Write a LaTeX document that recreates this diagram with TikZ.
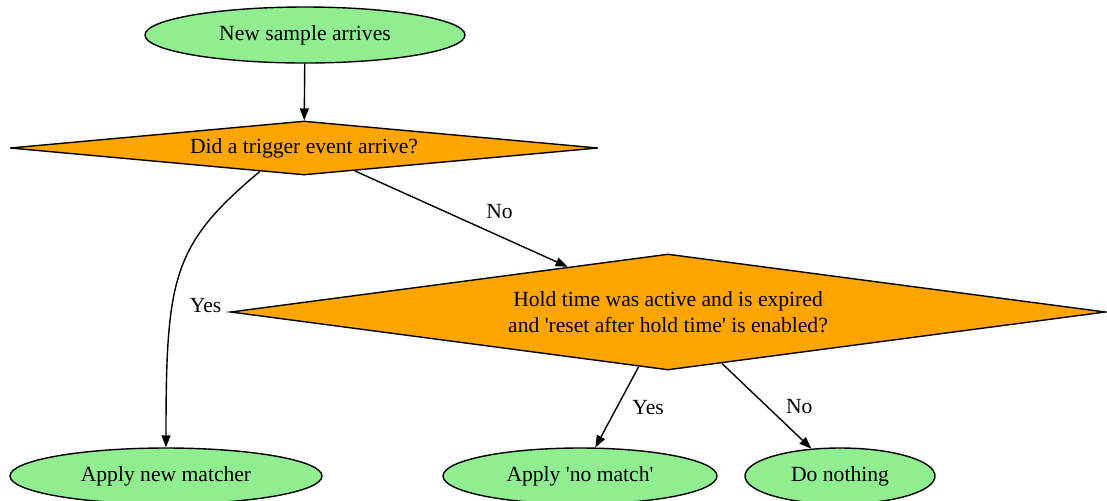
\documentclass[tikz,border=0pt]{standalone}
\usepackage{fontspec}
\setmainfont{Liberation Serif}
\usepackage{tikz}
\usetikzlibrary{shapes.geometric, arrows.meta}

\definecolor{leaf}{HTML}{90EE90}
\definecolor{ask}{HTML}{FFA500}

\begin{document}
\begin{tikzpicture}[x=0.5pt, y=-0.5pt,
		every node/.style={font=\fontsize{10.8}{13}\selectfont},
		endbox/.style={ellipse, draw, fill=leaf, line width=0.7pt, inner sep=0pt},
		askbox/.style={diamond, draw, fill=ask, line width=0.7pt, inner sep=0pt, align=center},
		arr/.style={line width=0.7pt, -{Triangle[length=6pt, width=4.5pt]}}]
			\useasboundingbox (0, 0) rectangle (1107, 500);

			\node[endbox, minimum width=160pt, minimum height=28pt] (arrive) at (305, 35) {New sample arrives};
			\node[askbox, aspect=10.9, minimum width=294pt, minimum height=27pt] (trig) at (304, 148) {Did a trigger event arrive?};
			\node[askbox, aspect=7.5, minimum width=437.5pt, minimum height=58pt] (hold) at (668, 312)
				{Hold time was active and is expired\\and \textquotesingle reset after hold time\textquotesingle\ is enabled?};
			\node[endbox, minimum width=156pt, minimum height=28pt] (newm) at (166, 476) {Apply new matcher};
			\node[endbox, minimum width=137pt, minimum height=28pt] (nomatch) at (580, 476) {Apply \textquotesingle no match\textquotesingle};
			\node[endbox, minimum width=95pt, minimum height=28pt] (nothing) at (840, 476) {Do nothing};

			\draw[arr] (arrive) -- (trig);
			\draw[arr] (trig.-152) to[out=-140, in=90, out looseness=1.0, in looseness=1.5]
				node[pos=0.63, right=5pt] {Yes} (newm);
			\draw[arr] (trig) -- node[pos=0.68, above=5pt] {No} (hold);
			\draw[arr] (hold) -- node[midway, right=4pt] {Yes} (nomatch);
			\draw[arr] (hold) -- node[midway, right=6pt] {No} (nothing);

		\end{tikzpicture}
\end{document}
